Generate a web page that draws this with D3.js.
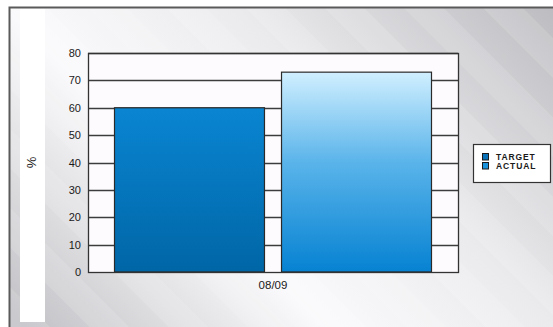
<!DOCTYPE html>
<html>
<head>
  <meta charset="UTF-8">
  <title>Target vs Actual</title>
  <script src="https://d3js.org/d3.v7.min.js"></script>
  <style>
    body { margin: 0; background: #fff; }
    svg { display: block; }
    text { font-family: "Liberation Sans", Arial, sans-serif; fill: #1a1a1a; }
  </style>
</head>
<body>
  <div id="chart"></div>

  <script>
    // data
    const categories = ["08/09"];
    const seriesNames = ["TARGET", "ACTUAL"];
    const targetValues = [60];
    const actualValues = [73];
    const yTicks = [0, 10, 20, 30, 40, 50, 60, 70, 80];
    const yLabel = "%";

    const W = 553, H = 327;
    const plot = {left: 88, top: 53, right: 458, bottom: 272};

    const svg = d3.select("#chart").append("svg")
                  .attr("width", W)
                  .attr("height", H);

    const defs = svg.append("defs");

    // grey background, dark at the top-right / bottom-left corners
    const bg = defs.append("linearGradient")
                   .attr("id", "bg")
                   .attr("gradientUnits", "userSpaceOnUse")
                   .attr("x1", -150).attr("y1", 150)
                   .attr("x2", 275).attr("y2", -275);
    [[0, "#c3c2c6"], [0.35, "#faf9fb"], [0.62, "#ebeaed"], [1, "#bcbbbf"]]
      .forEach(([o, c]) => bg.append("stop").attr("offset", o).attr("stop-color", c));

    // diagonal stripes over it
    const stripes = defs.append("pattern")
                        .attr("id", "stripes")
                        .attr("patternUnits", "userSpaceOnUse")
                        .attr("width", 56).attr("height", 56)
                        .attr("patternTransform", "rotate(-45)");
    stripes.append("rect").attr("width", 28).attr("height", 56)
           .attr("fill", "#ffffff").attr("opacity", 0.12);

    const gTarget = defs.append("linearGradient").attr("id", "gTarget")
                        .attr("x1", 0).attr("y1", 0).attr("x2", 0).attr("y2", 1);
    gTarget.append("stop").attr("offset", 0).attr("stop-color", "#0a85d2");
    gTarget.append("stop").attr("offset", 1).attr("stop-color", "#0066a6");

    const gActual = defs.append("linearGradient").attr("id", "gActual")
                        .attr("x1", 0).attr("y1", 0).attr("x2", 0).attr("y2", 1);
    gActual.append("stop").attr("offset", 0).attr("stop-color", "#d0efff");
    gActual.append("stop").attr("offset", 0.45).attr("stop-color", "#5ab4ea");
    gActual.append("stop").attr("offset", 1).attr("stop-color", "#0682d2");

    // frame
    svg.append("rect").attr("x", 9).attr("y", 8).attr("width", W).attr("height", H)
       .attr("fill", "url(#bg)");
    svg.append("rect").attr("x", 9).attr("y", 8).attr("width", W).attr("height", H)
       .attr("fill", "url(#stripes)");
    svg.append("path").attr("d", `M9.5,${H} V7.5 H${W}`)
       .attr("fill", "none").attr("stroke", "#5a5a5a").attr("stroke-width", 2);

    // white strip on the left
    svg.append("rect").attr("x", 20).attr("y", 9).attr("width", 25).attr("height", 313)
       .attr("fill", "#ffffff");

    const y = d3.scaleLinear().domain([0, 80]).range([plot.bottom, plot.top]);
    const x0 = d3.scaleBand().domain(categories).range([plot.left, plot.right])
                 .paddingOuter(0.0836).paddingInner(0);
    const x1 = d3.scaleBand().domain(seriesNames).range([0, x0.bandwidth()])
                 .paddingInner(0.102).paddingOuter(0);

    svg.append("rect")
       .attr("x", plot.left).attr("y", plot.top)
       .attr("width", plot.right - plot.left).attr("height", plot.bottom - plot.top)
       .attr("fill", "#fdfbfe");

    // gridlines
    svg.append("g").selectAll("line")
       .data(yTicks.filter(t => t > 0))
       .join("line")
       .attr("x1", plot.left).attr("x2", plot.right)
       .attr("y1", d => Math.round(y(d)) + 0.5).attr("y2", d => Math.round(y(d)) + 0.5)
       .attr("stroke", "#3c3c3c").attr("stroke-width", 1.3);

    const rows = categories.map((c, i) => ({cat: c, TARGET: targetValues[i], ACTUAL: actualValues[i]}));

    const grp = svg.append("g").selectAll("g")
                   .data(rows)
                   .join("g")
                   .attr("transform", d => `translate(${x0(d.cat)},0)`);

    grp.selectAll("rect")
       .data(d => seriesNames.map(s => ({s, v: d[s]})))
       .join("rect")
       .attr("x", d => x1(d.s))
       .attr("y", d => y(d.v))
       .attr("width", x1.bandwidth())
       .attr("height", d => y(0) - y(d.v))
       .attr("fill", d => d.s === "TARGET" ? "url(#gTarget)" : "url(#gActual)")
       .attr("stroke", "#2a2a2a").attr("stroke-width", 1.2);

    // plot border
    svg.append("rect")
       .attr("x", plot.left + 0.5).attr("y", plot.top + 0.5)
       .attr("width", plot.right - plot.left).attr("height", plot.bottom - plot.top)
       .attr("fill", "none").attr("stroke", "#333").attr("stroke-width", 1.3);

    // y axis labels
    const yAxis = d3.axisLeft(y).tickValues(yTicks).tickSize(0).tickPadding(7);
    svg.append("g")
       .attr("transform", `translate(${plot.left},0)`)
       .call(yAxis)
       .call(g => g.select(".domain").remove())
       .selectAll("text")
       .style("font-size", "11px")
       .attr("fill", "#1a1a1a");

    // x axis label
    const xAxis = d3.axisBottom(x0).tickSize(0).tickPadding(9);
    svg.append("g")
       .attr("transform", `translate(0,${plot.bottom})`)
       .call(xAxis)
       .call(g => g.select(".domain").remove())
       .selectAll("text")
       .style("font-size", "11.5px")
       .attr("fill", "#1a1a1a");

    svg.append("text")
       .attr("transform", `translate(36,${(plot.top + plot.bottom) / 2}) rotate(-90)`)
       .attr("text-anchor", "middle")
       .style("font-size", "13px")
       .text(yLabel);

    // legend
    const leg = svg.append("g").attr("transform", "translate(473,144)");
    leg.append("rect").attr("x", 0.5).attr("y", 0.5).attr("width", 77).attr("height", 38)
       .attr("fill", "#ffffff").attr("stroke", "#333").attr("stroke-width", 1.2);
    const legColors = ["#0a72b8", "#1b93dc"];
    seriesNames.forEach((s, i) => {
      leg.append("rect")
         .attr("x", 9.5).attr("y", 9.5 + i * 9).attr("width", 6).attr("height", 6.5)
         .attr("fill", legColors[i]).attr("stroke", "#1a1a1a").attr("stroke-width", 1);
      leg.append("text")
         .attr("x", 23).attr("y", 16 + i * 9)
         .style("font-size", "8.5px").style("font-weight", "bold")
         .style("letter-spacing", "0.9px")
         .text(s);
    });
  </script>
</body>
</html>
